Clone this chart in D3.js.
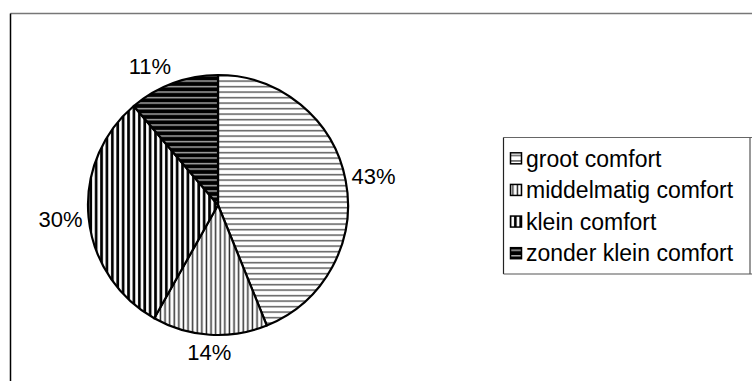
<!DOCTYPE html>
<html>
<head>
<meta charset="utf-8">
<script src="https://cdn.jsdelivr.net/npm/d3@7"></script>
<style>
  body { margin: 0; background: #fff; }
  svg { display: block; font-family: "Liberation Sans", Arial, sans-serif; }
</style>
</head>
<body>
<svg class="chart"></svg>
<script>
(function() {
  'use strict';

var categories = ['groot comfort', 'middelmatig comfort', 'klein comfort', 'zonder klein comfort'];
var values = [43, 14, 30, 11];
var labels = ['43%', '14%', '30%', '11%'];
var patternIds = ['p-groot', 'p-middel', 'p-klein', 'p-zonder'];

var width = 752,
    height = 381;

var cx = 218, cy = 205, radius = 130;

var svg = d3.select('.chart')
    .attr('width', width)
    .attr('height', height);

// hatch patterns
var defs = svg.append('defs');

var pg = defs.append('pattern').attr('id', 'p-groot')
    .attr('patternUnits', 'userSpaceOnUse').attr('width', 8).attr('height', 5.5);
pg.append('rect').attr('width', 8).attr('height', 5.5).attr('fill', '#fff');
pg.append('rect').attr('y', 2).attr('width', 8).attr('height', 1.3).attr('fill', '#444');

var pm = defs.append('pattern').attr('id', 'p-middel')
    .attr('patternUnits', 'userSpaceOnUse').attr('width', 4.6).attr('height', 8);
pm.append('rect').attr('width', 4.6).attr('height', 8).attr('fill', '#fff');
pm.append('rect').attr('x', 1.5).attr('width', 1.5).attr('height', 8).attr('fill', '#333');

var pk = defs.append('pattern').attr('id', 'p-klein')
    .attr('patternUnits', 'userSpaceOnUse').attr('width', 5.4).attr('height', 8);
pk.append('rect').attr('width', 5.4).attr('height', 8).attr('fill', '#fff');
pk.append('rect').attr('x', 1).attr('width', 2.7).attr('height', 8).attr('fill', '#000');

var pz = defs.append('pattern').attr('id', 'p-zonder')
    .attr('patternUnits', 'userSpaceOnUse').attr('width', 8).attr('height', 5.5);
pz.append('rect').attr('width', 8).attr('height', 5.5).attr('fill', '#000');
pz.append('rect').attr('y', 2).attr('width', 8).attr('height', 1.2).attr('fill', '#ccc');

// chart area border (only top and left edges visible)
svg.append('line').attr('x1', 10.5).attr('y1', 13.5).attr('x2', width).attr('y2', 13.5)
    .attr('stroke', '#777').attr('stroke-width', 1.5);
svg.append('line').attr('x1', 10.5).attr('y1', 13.5).attr('x2', 10.5).attr('y2', height)
    .attr('stroke', '#000').attr('stroke-width', 1.5);

var pie = d3.pie().sort(null).value(function(d) { return d; });
var arcs = pie(values);

var arc = d3.arc().innerRadius(0).outerRadius(radius);
var labelArc = d3.arc().innerRadius(radius + 6).outerRadius(radius + 6);

var g = svg.append('g')
    .attr('transform', 'translate(' + cx + ',' + cy + ')');

g.selectAll('path.slice')
    .data(arcs)
  .enter().append('path')
    .attr('class', 'slice')
    .attr('d', arc)
    .attr('fill', function(d, i) { return 'url(#' + patternIds[i] + ')'; })
    .attr('stroke', '#000')
    .attr('stroke-width', 2.2)
    .attr('stroke-linejoin', 'round');

// labels sit just outside the rim, anchored away from the pie
function midSin(d) { return Math.sin((d.startAngle + d.endAngle) / 2); }
function midCos(d) { return Math.cos((d.startAngle + d.endAngle) / 2); }

g.selectAll('text.lbl')
    .data(arcs)
  .enter().append('text')
    .attr('class', 'lbl')
    .attr('x', function(d) { return labelArc.centroid(d)[0]; })
    .attr('y', function(d) { return labelArc.centroid(d)[1] - midCos(d) * 12; })
    .attr('dy', '0.35em')
    .attr('text-anchor', function(d) {
      var s = midSin(d);
      if (Math.abs(s) < 0.3) return 'middle';
      return s > 0 ? 'start' : 'end';
    })
    .style('font-size', '22px')
    .text(function(d, i) { return labels[i]; });

// legend
var lx = 503.5, ly = 137.5, lh = 136.5;
var legend = svg.append('g');
legend.append('line').attr('x1', lx).attr('y1', ly).attr('x2', width).attr('y2', ly)
    .attr('stroke', '#666').attr('stroke-width', 1.2);
legend.append('line').attr('x1', lx).attr('y1', ly).attr('x2', lx).attr('y2', ly + lh)
    .attr('stroke', '#222').attr('stroke-width', 1.2);
legend.append('line').attr('x1', lx).attr('y1', ly + lh).attr('x2', width).attr('y2', ly + lh)
    .attr('stroke', '#555').attr('stroke-width', 1.2);
legend.append('line').attr('x1', 750).attr('y1', ly).attr('x2', 750).attr('y2', ly + lh)
    .attr('stroke', '#555').attr('stroke-width', 1.2);

var row = d3.scaleBand()
    .domain(categories)
    .range([ly + 5, ly + lh - 5])
    .paddingInner(0);

var item = legend.selectAll('g.item')
    .data(categories)
  .enter().append('g')
    .attr('class', 'item')
    .attr('transform', function(d) { return 'translate(0,' + (row(d) + row.bandwidth() / 2) + ')'; });

item.append('rect')
    .attr('x', 510.5)
    .attr('y', -5.5)
    .attr('width', 11)
    .attr('height', 11)
    .attr('fill', function(d, i) { return 'url(#' + patternIds[i] + ')'; })
    .attr('stroke', '#000')
    .attr('stroke-width', 1.5);

item.append('text')
    .attr('x', 526)
    .attr('dy', '0.36em')
    .style('font-size', '23px')
    .text(function(d) { return d; });
}());
</script>
</body>
</html>
